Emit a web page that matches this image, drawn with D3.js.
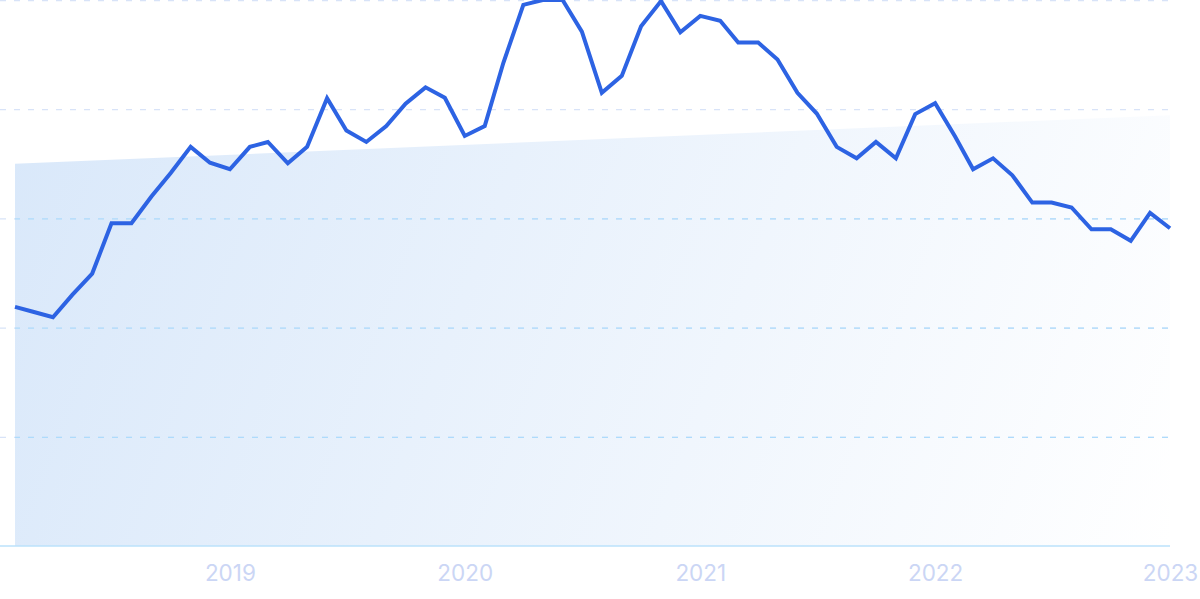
<!DOCTYPE html>
<html>
<head>
<meta charset="utf-8">
<script src="https://cdn.jsdelivr.net/npm/d3@7"></script>
<style>
  html, body { margin: 0; padding: 0; background: #ffffff; }
  svg { display: block; }
</style>
</head>
<body>
<svg id="chart" width="1200" height="599"></svg>
<script>
// ---- data ----
const startMonth = "2018-02";           // first monthly observation
const values = [
  43.8, 42.9, 41.9, 46.0, 49.9, 59.1, 59.1, 64.0, 68.3, 73.1, 70.2,           // 2018 Feb-Dec
  69.0, 73.1, 74.0, 70.1, 73.1, 82.0, 76.1, 74.0, 76.9, 81.0, 84.0, 82.1,     // 2019
  75.1, 76.9, 88.5, 99.1, 100.0, 100.0, 94.2, 83.0, 86.1, 95.2, 99.8, 94.1,   // 2020
  97.1, 96.2, 92.2, 92.2, 89.1, 83.0, 79.2, 73.1, 71.0, 74.0, 71.0, 79.1,     // 2021
  81.1, 75.0, 69.0, 71.0, 67.9, 62.9, 62.9, 62.0, 58.0, 58.0, 55.9, 61.0,     // 2022
  58.2                                                                          // 2023 Jan
];
const trendValues = [70.0, 78.9];        // trend band: start, end
const yearTicks = ["2019", "2020", "2021", "2022", "2023"];
const gridValues = [0, 20, 40, 60, 80, 100];

// ---- setup ----
const svg = d3.select("#chart");
const parseMonth = d3.timeParse("%Y-%m");
const start = parseMonth(startMonth);
const series = values.map((v, i) => ({ date: d3.timeMonth.offset(start, i), value: v }));
const first = series[0].date, last = series[series.length - 1].date;

const x = d3.scaleTime().domain([first, last]).range([15, 1170]);
const y = d3.scaleLinear().domain([0, 100]).range([546, 0]);

// gradient
const defs = svg.append("defs");
const grad = defs.append("linearGradient")
  .attr("id", "bandGrad")
  .attr("gradientUnits", "userSpaceOnUse")
  .attr("x1", 15).attr("y1", 116).attr("x2", 1170).attr("y2", 546);
grad.append("stop").attr("offset", "0%").attr("stop-color", "#d9e8fa");
grad.append("stop").attr("offset", "100%").attr("stop-color", "#ffffff");

const trend = [
  { date: first, value: trendValues[0] },
  { date: last, value: trendValues[1] }
];
const bandArea = d3.area()
  .x(d => x(d.date))
  .y0(y(0))
  .y1(d => y(d.value));

defs.append("clipPath").attr("id", "bandClip")
  .append("path").attr("d", bandArea(trend));

// trend band
svg.append("path")
  .attr("d", bandArea(trend))
  .attr("fill", "url(#bandGrad)");

// gridlines (outside band)
const gridX0 = 0, gridX1 = 1170;
const grid = svg.append("g");
grid.selectAll("line.g")
  .data(gridValues.filter(v => v > 0))
  .join("line")
  .attr("x1", gridX0).attr("x2", gridX1)
  .attr("y1", d => y(d) + 0.5).attr("y2", d => y(d) + 0.5)
  .attr("stroke", "#d8e3f8")
  .attr("stroke-width", 1.3)
  .attr("stroke-dasharray", "6,8");
// gridlines inside band (more saturated)
const grid2 = svg.append("g").attr("clip-path", "url(#bandClip)");
grid2.selectAll("line.g")
  .data(gridValues.filter(v => v > 0))
  .join("line")
  .attr("x1", gridX0).attr("x2", gridX1)
  .attr("y1", d => y(d) + 0.5).attr("y2", d => y(d) + 0.5)
  .attr("stroke", "#aedbfc")
  .attr("stroke-width", 1.3)
  .attr("stroke-dasharray", "6,8");

// baseline
svg.append("line")
  .attr("x1", gridX0).attr("x2", gridX1)
  .attr("y1", y(0)).attr("y2", y(0))
  .attr("stroke", "#bbe2fb")
  .attr("stroke-width", 1.5);

// x axis labels
const axis = d3.axisBottom(x)
  .tickValues(yearTicks.map(t => d3.timeParse("%Y")(t)))
  .tickFormat((d, i) => yearTicks[i])
  .tickSize(0)
  .tickPadding(19);
const gx = svg.append("g").attr("transform", `translate(0,${y(0)})`).call(axis);
gx.select(".domain").remove();
gx.selectAll("text")
  .attr("fill", "#cbd6f5")
  .style("font-family", "Inter, 'Noto Sans', sans-serif")
  .style("font-size", "22.5px");

// line
const line = d3.line().x(d => x(d.date)).y(d => y(d.value));
svg.append("path")
  .datum(series)
  .attr("d", line)
  .attr("fill", "none")
  .attr("stroke", "#2d63e3")
  .attr("stroke-width", 4)
  .attr("stroke-linejoin", "miter");
</script>
</body>
</html>
